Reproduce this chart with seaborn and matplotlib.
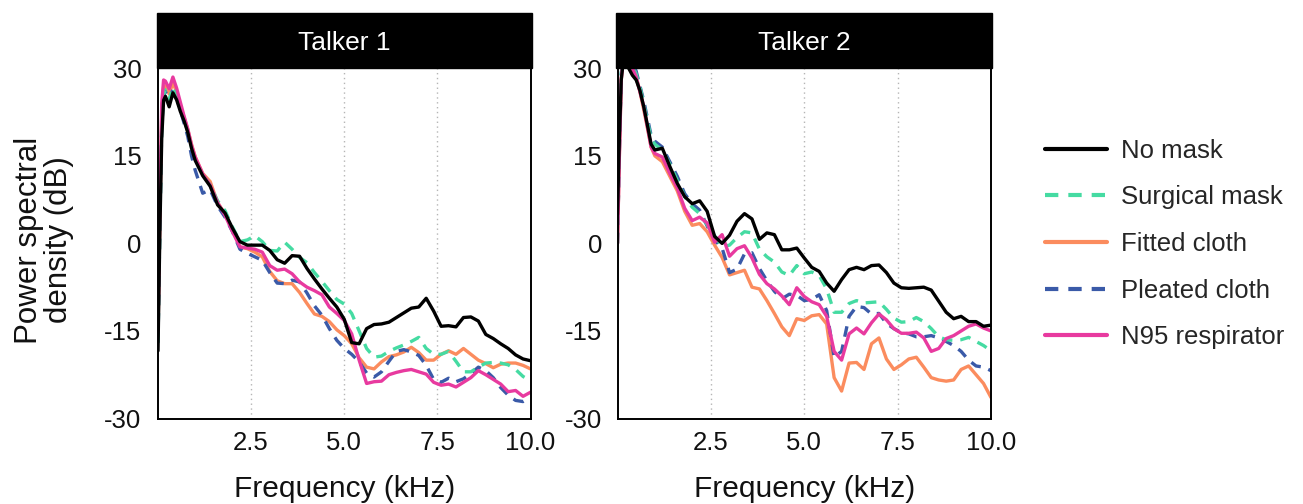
import matplotlib
matplotlib.use("Agg")
import matplotlib.pyplot as plt
import numpy as np
import pandas as pd
import seaborn as sns
from matplotlib.lines import Line2D
from matplotlib.patches import Rectangle

# ---------------- data ----------------
freq = [0.0, 0.05, 0.1, 0.15, 0.2, 0.3, 0.4, 0.5, 0.6, 0.7, 0.8, 0.9,
        1.0, 1.2, 1.4, 1.6, 1.8, 2.0, 2.2, 2.4, 2.6, 2.8,
        3.0, 3.2, 3.4, 3.6, 3.8, 4.0, 4.2, 4.4, 4.6, 4.8,
        5.0, 5.2, 5.4, 5.6, 5.8, 6.0, 6.2, 6.4, 6.6, 6.8,
        7.0, 7.2, 7.4, 7.6, 7.8, 8.0, 8.2, 8.4, 8.6, 8.8,
        9.0, 9.2, 9.4, 9.6, 9.8, 10.0]

masks = ["No mask", "Surgical mask", "Fitted cloth", "Pleated cloth", "N95 respirator"]
talkers = ["Talker 1", "Talker 2"]

t1_no_mask = [-18.4, 2, 18, 24.5, 25.2, 23.4, 25.8, 24.6, 22.6, 21, 19, 16.3,
              14.2, 11.6, 9.8, 6.6, 5.2, 2.6, 0.3, -0.3, -0.3, -0.3,
              -1.2, -2.8, -3.4, -2.1, -2.2, -4.3, -6.1, -7.8, -9.4, -10.9,
              -13, -17, -17.2, -14.6, -13.9, -13.8, -13.5, -12.7, -11.9, -11.1,
              -10.9, -9.4, -11.6, -14.2, -14.1, -14.3, -12.7, -12.6, -13.3, -15.6,
              -16.3, -17.2, -18, -19.1, -19.8, -20.1]
t1_surgical = [-17, 3, 20, 25.5, 26.3, 24.6, 26.8, 25.3, 23, 21.2, 19.2, 16.5,
               14.4, 11.8, 10, 7.3, 5.6, 2.8, 0.3, 0.6, 1.3, 0.3,
               -1.2, -1.3, 0.2, -1, -2.4, -3.3, -5, -6.5, -8.1, -9.6,
               -10.4, -12, -15, -18, -19.5, -19.3, -18.5, -17.9, -17.4, -16.8,
               -16.1, -18, -19, -19, -18.5, -20.2, -22, -22, -21.2, -20.5,
               -20.4, -20.5, -20.8, -21.6, -22.8, -23.5]
t1_fitted = [-16, 4, 22, 26.8, 27, 25.6, 27.5, 26, 23.6, 21.6, 19.5, 17,
             14.8, 12, 10.6, 7, 5, 2.3, -0.6, -0.9, -1.5, -2.3,
             -4.8, -6.4, -6.9, -6.9, -8.4, -10.3, -12.1, -12.5, -13.4, -14.8,
             -15.8, -17.2, -19.6, -21.2, -21.5, -20.3, -19.4, -19.1, -18.6, -17.8,
             -18.7, -20, -20, -19, -18.4, -19, -18, -19, -20, -20.6,
             -21.3, -20.7, -20.5, -20.5, -20.9, -21.5]
t1_pleated = [-17, 3, 20, 25.3, 26, 24.5, 26.4, 25, 22.8, 20.6, 18.3, 15,
              12.5, 8.6, 9.2, 6.4, 4.5, 2, -1, -1.7, -2.3, -2.9,
              -5, -6.8, -6.9, -6.3, -6.6, -8.5, -10.7, -12.3, -14.6, -16.6,
              -18, -19, -20.3, -22.2, -22.9, -22, -20.2, -18.5, -18.2, -18.6,
              -19.2, -20.9, -23.3, -23.8, -23.1, -23.7, -23.2, -22.3, -21.2, -21.8,
              -23, -24.7, -26, -26.9, -27.1, -26.4]
t1_n95 = [-15, 6, 24, 28, 27.8, 26.5, 28.5, 26.6, 24.2, 21.8, 19.6, 16.8,
          14.8, 11.9, 10, 7, 4.8, 2, -0.6, -0.8, -1, -1.5,
          -3.8, -4.6, -4.4, -5.2, -6.6, -7.5, -8.1, -8.8, -10.9, -12,
          -13.2, -15.5, -20, -24, -23.7, -23.6, -22.5, -22.1, -21.8, -21.6,
          -22, -22.4, -23.8, -24.3, -24.1, -24.6, -23.8, -23, -21.8, -22.5,
          -23.3, -24.1, -25.4, -25.2, -26.2, -25.5]

t2_no_mask = [5, 18, 28, 31, 31, 30, 28.8, 28, 26.2, 23.5, 20.3, 17,
              16, 16.3, 13.2, 10.3, 8, 6.8, 7.3, 5.5, 1.2, 0,
              1.4, 3.8, 5.1, 4.2, 0.7, 1.8, 1.5, -1.1, -1.1, -0.8,
              -2.5, -4.1, -4.8, -6.8, -8.2, -6.2, -4.5, -4.1, -4.5, -3.8,
              -3.7, -5, -6.8, -7.6, -7.7, -7.6, -7.5, -8, -9.9, -11.8,
              -12.9, -12.5, -13.4, -13.4, -14.2, -14]
t2_surgical = [0, 16, 29, 32, 32, 31.5, 30.5, 29, 26.8, 24, 21, 18,
               17, 16, 13.6, 10.8, 8, 6.2, 5.1, 3.2, 1.3, -0.5,
               -0.3, 1, 2, 1.8, -1, -2.3, -3.2, -4.9, -5.5, -3.8,
               -5.2, -4.9, -5.5, -7.8, -11.8, -11.8, -10.3, -9.8, -10.2, -10.1,
               -10, -11.3, -12.8, -13.5, -13.4, -12.7, -13.4, -14.6, -16, -16.5,
               -16.6, -16.5, -16.1, -16.8, -17.5, -18.4]
t2_fitted = [0, 15, 28, 32, 32, 31, 30, 28.5, 26, 23, 19.8, 16.5,
             15, 14, 11.5, 9, 5.5, 3.1, 3.4, 2, -0.3, -2.4,
             -5.4, -5, -4.6, -7.5, -7.8, -9.8, -12, -14.3, -15.8, -12.9,
             -13.2, -12.4, -12.2, -13.8, -23, -25.3, -20.5, -20.4, -21.6, -17.2,
             -16.2, -19.8, -21.6, -20.8, -19.8, -19.5, -21.2, -23, -23.4, -23.6,
             -23.4, -21.6, -21, -22.5, -24, -26.4]
t2_pleated = [0, 16, 29, 32, 32, 31.5, 31, 29.5, 27, 24.5, 21.5, 18.5,
              17.5, 16.5, 14, 11.5, 8.5, 6.8, 5.7, 3, 0.6, -0.8,
              -5, -4.4, -1.8, -1.6, -4.3, -6.4, -8.2, -9.5, -8.7, -8.9,
              -9.8, -9.6, -8.8, -11.5, -19.5, -18.5, -12.5, -10.8, -11, -12.1,
              -12, -13.7, -14.6, -15.3, -15.5, -16, -16, -15.8, -16.2, -16.8,
              -17.5, -18.5, -20, -21, -21.2, -21.8]
t2_n95 = [0, 15, 28, 32, 32, 31, 30, 28.5, 26, 23.5, 20, 16.5,
          15.4, 14.8, 12, 9.5, 6, 3.9, 4.5, 3.5, 0.2, 1.5,
          -2.2, -0.9, -0.4, -2.5, -5.3, -6.9, -7.8, -9, -10.5, -7.6,
          -9.1, -10, -10.5, -12.5, -18.5, -20, -15.5, -14.5, -15.5, -13.6,
          -12.1, -13.1, -14.6, -15.4, -15.4, -15.2, -16.2, -18.5, -18, -16.3,
          -15.8, -15, -14.2, -13.8, -14.5, -15]

x_ticks = [2.5, 5.0, 7.5, 10.0]
x_tick_labels = ["2.5", "5.0", "7.5", "10.0"]
y_ticks = [-30, -15, 0, 15, 30]
y_tick_labels = ["-30", "-15", "0", "15", "30"]

# ---------------- build long table ----------------
series = {
    "Talker 1": [t1_no_mask, t1_surgical, t1_fitted, t1_pleated, t1_n95],
    "Talker 2": [t2_no_mask, t2_surgical, t2_fitted, t2_pleated, t2_n95],
}
rows = []
for t in talkers:
    for m, vals in zip(masks, series[t]):
        for f, v in zip(freq, vals):
            rows.append((t, m, f, v))
df = pd.DataFrame(rows, columns=["talker", "mask", "freq", "psd"])

colors = {"No mask": "#000000", "Surgical mask": "#45dba2", "Fitted cloth": "#fb8c5e",
          "Pleated cloth": "#3a5aa8", "N95 respirator": "#e83a9f"}
dashes = {"No mask": "", "Surgical mask": (3.2, 2.4), "Fitted cloth": "",
          "Pleated cloth": (3.2, 2.4), "N95 respirator": ""}
draw_order = ["Fitted cloth", "Pleated cloth", "Surgical mask", "N95 respirator", "No mask"]

# ---------------- figure ----------------
sns.set_theme(style="white")
plt.rcParams["font.family"] = ["Liberation Sans", "DejaVu Sans"]
plt.rcParams["axes.unicode_minus"] = False

W, H = 1303, 504
fig = plt.figure(figsize=(W / 100, H / 100), dpi=100)
top_px, bot_px = 68.3, 418.5
ax_h = (bot_px - top_px) / H
axes = [fig.add_axes([158 / W, 1 - bot_px / H, (530.5 - 158) / W, ax_h]),
        fig.add_axes([617.5 / W, 1 - bot_px / H, (991 - 617.5) / W, ax_h])]

for i, (ax, t) in enumerate(zip(axes, talkers)):
    for v in [2.5, 5.0, 7.5]:
        ax.axvline(v, color="#b5b5b5", lw=1.0, ls=(0, (1, 2.5)), zorder=0)
    sns.lineplot(data=df[df.talker == t], x="freq", y="psd", hue="mask", style="mask",
                 hue_order=draw_order, style_order=draw_order, palette=colors,
                 dashes=dashes, linewidth=2.4, legend=False, ax=ax,
                 estimator=None, sort=True)
    ax.set_xlim(0, 10)
    ax.set_ylim(-30, 30)
    ax.set_xticks(x_ticks)
    ax.set_xticklabels(x_tick_labels)
    ax.set_yticks(y_ticks)
    ax.set_yticklabels(y_tick_labels)
    ax.tick_params(axis="both", length=0, labelsize=18.5, colors="#111111")
    ax.tick_params(axis="y", pad=12 if i == 0 else 11)
    ax.tick_params(axis="x", pad=9)
    for s in ax.spines.values():
        s.set_color("black")
        s.set_linewidth(1.4)
    ax.set_ylabel("")
    ax.set_xlabel("Frequency (kHz)", fontsize=21.5, va="center", color="#111111")
    ax.xaxis.set_label_coords(0.5, -(489 - bot_px) / (bot_px - top_px))
    # strip header
    hh = (top_px - 13.3) / (bot_px - top_px)
    ax.add_patch(Rectangle((-0.004, 1.0), 1.008, hh, transform=ax.transAxes,
                           facecolor="black", edgecolor="black", clip_on=False, zorder=5))
    ax.text(0.5, 1.0 + (top_px - 43) / (bot_px - top_px), t, transform=ax.transAxes,
            ha="center", va="center", color="white", fontsize=19, zorder=6)

fig.text(44 / W, 1 - 240 / H, "Power spectral\ndensity (dB)", rotation=90,
         ha="center", va="center", fontsize=22.5, linespacing=1.0, color="#111111")

handles = [Line2D([0], [0], color=colors[m], lw=3,
                  ls=(0, dashes[m]) if dashes[m] else "-") for m in masks]
fig.legend(handles, masks, loc="center left", bbox_to_anchor=(1045 / W, 1 - 244 / H),
           frameon=False, fontsize=18.5, handlelength=2.4, handletextpad=0.55,
           labelspacing=0.88, borderpad=0, borderaxespad=0)

fig.savefig("out.png", dpi=100)
